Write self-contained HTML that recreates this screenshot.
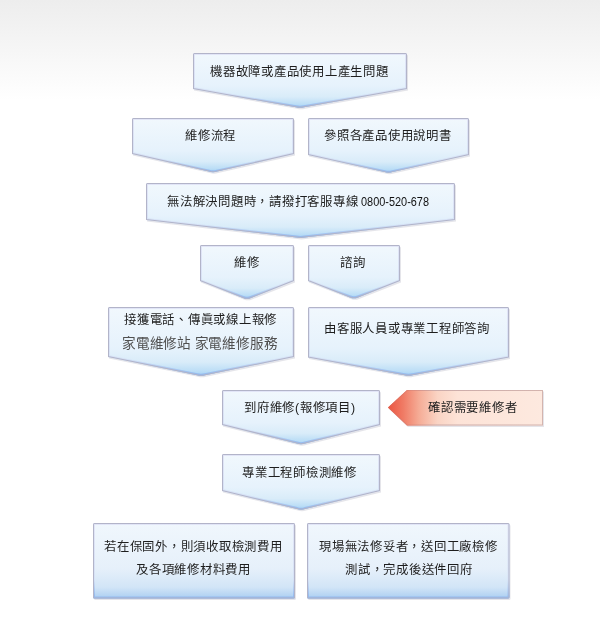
<!DOCTYPE html>
<html lang="zh-TW"><head><meta charset="utf-8">
<style>
html,body{margin:0;padding:0;width:600px;height:630px;overflow:hidden;background:#fff;}
body{background:linear-gradient(#ededed 0px,#fff 100px,#fff 630px);}
svg{position:absolute;left:0;top:0;will-change:transform;}
text{font-family:"Liberation Sans",sans-serif;font-size:12.4px;fill:#1e1e1e;font-weight:500;letter-spacing:0.75px;}
</style></head><body>
<svg width="600" height="630" viewBox="0 0 600 630">
<defs>
<linearGradient id="g" x1="0" y1="0" x2="0" y2="1">
<stop offset="0" stop-color="#f1f8fd"/>
<stop offset="0.6" stop-color="#e6f2fc"/>
<stop offset="0.8" stop-color="#d9ecf9"/>
<stop offset="0.93" stop-color="#bcdef6"/>
<stop offset="1" stop-color="#a4d0f3"/>
</linearGradient>
<linearGradient id="gr" x1="0" y1="0" x2="1" y2="0">
<stop offset="0" stop-color="#ec5440"/>
<stop offset="0.1" stop-color="#f07c66"/>
<stop offset="0.2" stop-color="#f5ac96"/>
<stop offset="0.32" stop-color="#fad4c4"/>
<stop offset="0.45" stop-color="#fde3d7"/>
<stop offset="1" stop-color="#fde9df"/>
</linearGradient>
<linearGradient id="gro" x1="0" y1="0" x2="1" y2="0">
<stop offset="0" stop-color="#e25e4c"/>
<stop offset="0.15" stop-color="#e08a7a"/>
<stop offset="0.3" stop-color="#ccacaa"/>
<stop offset="1" stop-color="#d4b4ae"/>
</linearGradient>
<linearGradient id="gi" x1="0" y1="0" x2="0" y2="1">
<stop offset="0" stop-color="#e2e5f7"/>
<stop offset="0.75" stop-color="#d6e2f6"/>
<stop offset="1" stop-color="#8cb6ee"/>
</linearGradient>
<linearGradient id="gb" x1="0" y1="0" x2="0" y2="1">
<stop offset="0" stop-color="#f0f7fd"/>
<stop offset="0.6" stop-color="#e6f0fa"/>
<stop offset="0.85" stop-color="#d2e5f7"/>
<stop offset="1" stop-color="#abcef1"/>
</linearGradient>
</defs>
<clipPath id="c0"><path d="M194.5,53 H405.5 Q407,53 407,54.5 V89 L304.00,107.29 Q300.00,108.30 296.00,107.29 L193,89 V54.5 Q193,53 194.5,53 Z"/></clipPath><path d="M194.5,53 H405.5 Q407,53 407,54.5 V89 L304.00,107.29 Q300.00,108.30 296.00,107.29 L193,89 V54.5 Q193,53 194.5,53 Z" fill="#8a8aa0" fill-opacity="0.22" transform="translate(1,1.5)"/><path d="M194.5,53 H405.5 Q407,53 407,54.5 V89 L304.00,107.29 Q300.00,108.30 296.00,107.29 L193,89 V54.5 Q193,53 194.5,53 Z" fill="url(#g)"/><path d="M194.5,53 H405.5 Q407,53 407,54.5 V89 L304.00,107.29 Q300.00,108.30 296.00,107.29 L193,89 V54.5 Q193,53 194.5,53 Z" fill="none" stroke="url(#gi)" stroke-width="4" clip-path="url(#c0)"/><path d="M194.5,53 H405.5 Q407,53 407,54.5 V89 L304.00,107.29 Q300.00,108.30 296.00,107.29 L193,89 V54.5 Q193,53 194.5,53 Z" fill="none" stroke="#b2b4c9" stroke-width="2" clip-path="url(#c0)"/>
<clipPath id="c1"><path d="M133.5,118 H292.5 Q294,118 294,119.5 V154 L217.00,171.59 Q213.00,172.80 209.00,171.59 L132,154 V119.5 Q132,118 133.5,118 Z"/></clipPath><path d="M133.5,118 H292.5 Q294,118 294,119.5 V154 L217.00,171.59 Q213.00,172.80 209.00,171.59 L132,154 V119.5 Q132,118 133.5,118 Z" fill="#8a8aa0" fill-opacity="0.22" transform="translate(1,1.5)"/><path d="M133.5,118 H292.5 Q294,118 294,119.5 V154 L217.00,171.59 Q213.00,172.80 209.00,171.59 L132,154 V119.5 Q132,118 133.5,118 Z" fill="url(#g)"/><path d="M133.5,118 H292.5 Q294,118 294,119.5 V154 L217.00,171.59 Q213.00,172.80 209.00,171.59 L132,154 V119.5 Q132,118 133.5,118 Z" fill="none" stroke="url(#gi)" stroke-width="4" clip-path="url(#c1)"/><path d="M133.5,118 H292.5 Q294,118 294,119.5 V154 L217.00,171.59 Q213.00,172.80 209.00,171.59 L132,154 V119.5 Q132,118 133.5,118 Z" fill="none" stroke="#b2b4c9" stroke-width="2" clip-path="url(#c1)"/>
<clipPath id="c2"><path d="M309.5,118 H467.5 Q469,118 469,119.5 V155 L392.50,172.11 Q388.50,173.30 384.50,172.11 L308,155 V119.5 Q308,118 309.5,118 Z"/></clipPath><path d="M309.5,118 H467.5 Q469,118 469,119.5 V155 L392.50,172.11 Q388.50,173.30 384.50,172.11 L308,155 V119.5 Q308,118 309.5,118 Z" fill="#8a8aa0" fill-opacity="0.22" transform="translate(1,1.5)"/><path d="M309.5,118 H467.5 Q469,118 469,119.5 V155 L392.50,172.11 Q388.50,173.30 384.50,172.11 L308,155 V119.5 Q308,118 309.5,118 Z" fill="url(#g)"/><path d="M309.5,118 H467.5 Q469,118 469,119.5 V155 L392.50,172.11 Q388.50,173.30 384.50,172.11 L308,155 V119.5 Q308,118 309.5,118 Z" fill="none" stroke="url(#gi)" stroke-width="4" clip-path="url(#c2)"/><path d="M309.5,118 H467.5 Q469,118 469,119.5 V155 L392.50,172.11 Q388.50,173.30 384.50,172.11 L308,155 V119.5 Q308,118 309.5,118 Z" fill="none" stroke="#b2b4c9" stroke-width="2" clip-path="url(#c2)"/>
<clipPath id="c3"><path d="M147.5,183 H453.5 Q455,183 455,184.5 V220 L304.50,237.53 Q300.50,238.30 296.50,237.53 L146,220 V184.5 Q146,183 147.5,183 Z"/></clipPath><path d="M147.5,183 H453.5 Q455,183 455,184.5 V220 L304.50,237.53 Q300.50,238.30 296.50,237.53 L146,220 V184.5 Q146,183 147.5,183 Z" fill="#8a8aa0" fill-opacity="0.22" transform="translate(1,1.5)"/><path d="M147.5,183 H453.5 Q455,183 455,184.5 V220 L304.50,237.53 Q300.50,238.30 296.50,237.53 L146,220 V184.5 Q146,183 147.5,183 Z" fill="url(#g)"/><path d="M147.5,183 H453.5 Q455,183 455,184.5 V220 L304.50,237.53 Q300.50,238.30 296.50,237.53 L146,220 V184.5 Q146,183 147.5,183 Z" fill="none" stroke="url(#gi)" stroke-width="4" clip-path="url(#c3)"/><path d="M147.5,183 H453.5 Q455,183 455,184.5 V220 L304.50,237.53 Q300.50,238.30 296.50,237.53 L146,220 V184.5 Q146,183 147.5,183 Z" fill="none" stroke="#b2b4c9" stroke-width="2" clip-path="url(#c3)"/>
<clipPath id="c4"><path d="M201.5,245 H292.5 Q294,245 294,246.5 V281 L251.00,297.93 Q247.00,299.80 243.00,297.93 L200,281 V246.5 Q200,245 201.5,245 Z"/></clipPath><path d="M201.5,245 H292.5 Q294,245 294,246.5 V281 L251.00,297.93 Q247.00,299.80 243.00,297.93 L200,281 V246.5 Q200,245 201.5,245 Z" fill="#8a8aa0" fill-opacity="0.22" transform="translate(1,1.5)"/><path d="M201.5,245 H292.5 Q294,245 294,246.5 V281 L251.00,297.93 Q247.00,299.80 243.00,297.93 L200,281 V246.5 Q200,245 201.5,245 Z" fill="url(#g)"/><path d="M201.5,245 H292.5 Q294,245 294,246.5 V281 L251.00,297.93 Q247.00,299.80 243.00,297.93 L200,281 V246.5 Q200,245 201.5,245 Z" fill="none" stroke="url(#gi)" stroke-width="4" clip-path="url(#c4)"/><path d="M201.5,245 H292.5 Q294,245 294,246.5 V281 L251.00,297.93 Q247.00,299.80 243.00,297.93 L200,281 V246.5 Q200,245 201.5,245 Z" fill="none" stroke="#b2b4c9" stroke-width="2" clip-path="url(#c4)"/>
<clipPath id="c5"><path d="M309.5,245 H398.5 Q400,245 400,246.5 V281 L358.00,297.43 Q354.00,299.30 350.00,297.43 L308,281 V246.5 Q308,245 309.5,245 Z"/></clipPath><path d="M309.5,245 H398.5 Q400,245 400,246.5 V281 L358.00,297.43 Q354.00,299.30 350.00,297.43 L308,281 V246.5 Q308,245 309.5,245 Z" fill="#8a8aa0" fill-opacity="0.22" transform="translate(1,1.5)"/><path d="M309.5,245 H398.5 Q400,245 400,246.5 V281 L358.00,297.43 Q354.00,299.30 350.00,297.43 L308,281 V246.5 Q308,245 309.5,245 Z" fill="url(#g)"/><path d="M309.5,245 H398.5 Q400,245 400,246.5 V281 L358.00,297.43 Q354.00,299.30 350.00,297.43 L308,281 V246.5 Q308,245 309.5,245 Z" fill="none" stroke="url(#gi)" stroke-width="4" clip-path="url(#c5)"/><path d="M309.5,245 H398.5 Q400,245 400,246.5 V281 L358.00,297.43 Q354.00,299.30 350.00,297.43 L308,281 V246.5 Q308,245 309.5,245 Z" fill="none" stroke="#b2b4c9" stroke-width="2" clip-path="url(#c5)"/>
<clipPath id="c6"><path d="M109.5,307 H292.5 Q294,307 294,308.5 V357 L205.00,375.18 Q201.00,376.30 197.00,375.18 L108,357 V308.5 Q108,307 109.5,307 Z"/></clipPath><path d="M109.5,307 H292.5 Q294,307 294,308.5 V357 L205.00,375.18 Q201.00,376.30 197.00,375.18 L108,357 V308.5 Q108,307 109.5,307 Z" fill="#8a8aa0" fill-opacity="0.22" transform="translate(1,1.5)"/><path d="M109.5,307 H292.5 Q294,307 294,308.5 V357 L205.00,375.18 Q201.00,376.30 197.00,375.18 L108,357 V308.5 Q108,307 109.5,307 Z" fill="url(#g)"/><path d="M109.5,307 H292.5 Q294,307 294,308.5 V357 L205.00,375.18 Q201.00,376.30 197.00,375.18 L108,357 V308.5 Q108,307 109.5,307 Z" fill="none" stroke="url(#gi)" stroke-width="4" clip-path="url(#c6)"/><path d="M109.5,307 H292.5 Q294,307 294,308.5 V357 L205.00,375.18 Q201.00,376.30 197.00,375.18 L108,357 V308.5 Q108,307 109.5,307 Z" fill="none" stroke="#b2b4c9" stroke-width="2" clip-path="url(#c6)"/>
<clipPath id="c7"><path d="M309.5,307 H507.5 Q509,307 509,308.5 V357.5 L412.50,375.26 Q408.50,376.30 404.50,375.26 L308,357.5 V308.5 Q308,307 309.5,307 Z"/></clipPath><path d="M309.5,307 H507.5 Q509,307 509,308.5 V357.5 L412.50,375.26 Q408.50,376.30 404.50,375.26 L308,357.5 V308.5 Q308,307 309.5,307 Z" fill="#8a8aa0" fill-opacity="0.22" transform="translate(1,1.5)"/><path d="M309.5,307 H507.5 Q509,307 509,308.5 V357.5 L412.50,375.26 Q408.50,376.30 404.50,375.26 L308,357.5 V308.5 Q308,307 309.5,307 Z" fill="url(#g)"/><path d="M309.5,307 H507.5 Q509,307 509,308.5 V357.5 L412.50,375.26 Q408.50,376.30 404.50,375.26 L308,357.5 V308.5 Q308,307 309.5,307 Z" fill="none" stroke="url(#gi)" stroke-width="4" clip-path="url(#c7)"/><path d="M309.5,307 H507.5 Q509,307 509,308.5 V357.5 L412.50,375.26 Q408.50,376.30 404.50,375.26 L308,357.5 V308.5 Q308,307 309.5,307 Z" fill="none" stroke="#b2b4c9" stroke-width="2" clip-path="url(#c7)"/>
<clipPath id="c8"><path d="M223.5,390 H378.5 Q380,390 380,391.5 V425 L305.00,443.51 Q301.00,444.80 297.00,443.51 L222,425 V391.5 Q222,390 223.5,390 Z"/></clipPath><path d="M223.5,390 H378.5 Q380,390 380,391.5 V425 L305.00,443.51 Q301.00,444.80 297.00,443.51 L222,425 V391.5 Q222,390 223.5,390 Z" fill="#8a8aa0" fill-opacity="0.22" transform="translate(1,1.5)"/><path d="M223.5,390 H378.5 Q380,390 380,391.5 V425 L305.00,443.51 Q301.00,444.80 297.00,443.51 L222,425 V391.5 Q222,390 223.5,390 Z" fill="url(#g)"/><path d="M223.5,390 H378.5 Q380,390 380,391.5 V425 L305.00,443.51 Q301.00,444.80 297.00,443.51 L222,425 V391.5 Q222,390 223.5,390 Z" fill="none" stroke="url(#gi)" stroke-width="4" clip-path="url(#c8)"/><path d="M223.5,390 H378.5 Q380,390 380,391.5 V425 L305.00,443.51 Q301.00,444.80 297.00,443.51 L222,425 V391.5 Q222,390 223.5,390 Z" fill="none" stroke="#b2b4c9" stroke-width="2" clip-path="url(#c8)"/>
<clipPath id="c9"><path d="M223.5,454 H378.5 Q380,454 380,455.5 V491 L305.00,509.04 Q301.00,510.30 297.00,509.04 L222,491 V455.5 Q222,454 223.5,454 Z"/></clipPath><path d="M223.5,454 H378.5 Q380,454 380,455.5 V491 L305.00,509.04 Q301.00,510.30 297.00,509.04 L222,491 V455.5 Q222,454 223.5,454 Z" fill="#8a8aa0" fill-opacity="0.22" transform="translate(1,1.5)"/><path d="M223.5,454 H378.5 Q380,454 380,455.5 V491 L305.00,509.04 Q301.00,510.30 297.00,509.04 L222,491 V455.5 Q222,454 223.5,454 Z" fill="url(#g)"/><path d="M223.5,454 H378.5 Q380,454 380,455.5 V491 L305.00,509.04 Q301.00,510.30 297.00,509.04 L222,491 V455.5 Q222,454 223.5,454 Z" fill="none" stroke="url(#gi)" stroke-width="4" clip-path="url(#c9)"/><path d="M223.5,454 H378.5 Q380,454 380,455.5 V491 L305.00,509.04 Q301.00,510.30 297.00,509.04 L222,491 V455.5 Q222,454 223.5,454 Z" fill="none" stroke="#b2b4c9" stroke-width="2" clip-path="url(#c9)"/>
<clipPath id="c20"><path d="M388,407.5 L407,390 H543 V425.5 H407 Z"/></clipPath><path d="M388,407.5 L407,390 H543 V425.5 H407 Z" fill="#8a8aa0" fill-opacity="0.22" transform="translate(1,1.5)"/><path d="M388,407.5 L407,390 H543 V425.5 H407 Z" fill="url(#gr)"/><path d="M388,407.5 L407,390 H543 V425.5 H407 Z" fill="none" stroke="none" stroke-width="4" clip-path="url(#c20)"/><path d="M388,407.5 L407,390 H543 V425.5 H407 Z" fill="none" stroke="url(#gro)" stroke-width="2" clip-path="url(#c20)"/>
<clipPath id="c21"><path d="M94.5,523 H293.5 Q295,523 295,524.5 V597.0 Q295,598.5 293.5,598.5 H94.5 Q93,598.5 93,597.0 V524.5 Q93,523 94.5,523 Z"/></clipPath><path d="M94.5,523 H293.5 Q295,523 295,524.5 V597.0 Q295,598.5 293.5,598.5 H94.5 Q93,598.5 93,597.0 V524.5 Q93,523 94.5,523 Z" fill="#8a8aa0" fill-opacity="0.22" transform="translate(1,1.5)"/><path d="M94.5,523 H293.5 Q295,523 295,524.5 V597.0 Q295,598.5 293.5,598.5 H94.5 Q93,598.5 93,597.0 V524.5 Q93,523 94.5,523 Z" fill="url(#gb)"/><path d="M94.5,523 H293.5 Q295,523 295,524.5 V597.0 Q295,598.5 293.5,598.5 H94.5 Q93,598.5 93,597.0 V524.5 Q93,523 94.5,523 Z" fill="none" stroke="url(#gi)" stroke-width="4" clip-path="url(#c21)"/><path d="M94.5,523 H293.5 Q295,523 295,524.5 V597.0 Q295,598.5 293.5,598.5 H94.5 Q93,598.5 93,597.0 V524.5 Q93,523 94.5,523 Z" fill="none" stroke="#b2b4c9" stroke-width="2" clip-path="url(#c21)"/>
<clipPath id="c22"><path d="M308.5,523 H508.0 Q509.5,523 509.5,524.5 V597.0 Q509.5,598.5 508.0,598.5 H308.5 Q307,598.5 307,597.0 V524.5 Q307,523 308.5,523 Z"/></clipPath><path d="M308.5,523 H508.0 Q509.5,523 509.5,524.5 V597.0 Q509.5,598.5 508.0,598.5 H308.5 Q307,598.5 307,597.0 V524.5 Q307,523 308.5,523 Z" fill="#8a8aa0" fill-opacity="0.22" transform="translate(1,1.5)"/><path d="M308.5,523 H508.0 Q509.5,523 509.5,524.5 V597.0 Q509.5,598.5 508.0,598.5 H308.5 Q307,598.5 307,597.0 V524.5 Q307,523 308.5,523 Z" fill="url(#gb)"/><path d="M308.5,523 H508.0 Q509.5,523 509.5,524.5 V597.0 Q509.5,598.5 508.0,598.5 H308.5 Q307,598.5 307,597.0 V524.5 Q307,523 308.5,523 Z" fill="none" stroke="url(#gi)" stroke-width="4" clip-path="url(#c22)"/><path d="M308.5,523 H508.0 Q509.5,523 509.5,524.5 V597.0 Q509.5,598.5 508.0,598.5 H308.5 Q307,598.5 307,597.0 V524.5 Q307,523 308.5,523 Z" fill="none" stroke="#b2b4c9" stroke-width="2" clip-path="url(#c22)"/>
<text x="210.00" y="76.00">機器故障或產品使用上產生問題</text>
<text x="185.00" y="140.00">維修流程</text>
<text x="324.00" y="140.00">參照各產品使用說明書</text>
<text x="167.00" y="206.00">無法解決問題時，請撥打客服專線</text>
<text transform="translate(361.00,206.00) scale(0.91,1)" style="font-size:12px;fill:#111;letter-spacing:0;font-weight:400">0800-520-678</text>
<text x="234.00" y="267.00">維修</text>
<text x="340.00" y="267.00">諮詢</text>
<text x="124.00" y="324.00">接獲電話、傳眞或線上報修</text>
<text x="122.00" y="348.00" style="font-size:13.6px;fill:#505050;letter-spacing:-0.2px;font-weight:400">家電維修站 家電維修服務</text>
<text x="324.00" y="333.00">由客服人員或專業工程師答詢</text>
<text x="244.00" y="412.00">到府維修(報修項目)</text>
<text x="428.00" y="412.00">確認需要維修者</text>
<text x="242.00" y="477.00">專業工程師檢測維修</text>
<text x="104.00" y="551.00">若在保固外，則須收取檢測費用</text>
<text x="136.00" y="574.00">及各項維修材料費用</text>
<text x="319.00" y="551.00">現場無法修妥者，送回工廠檢修</text>
<text x="345.00" y="574.00">測試，完成後送件回府</text>
</svg>
</body></html>
